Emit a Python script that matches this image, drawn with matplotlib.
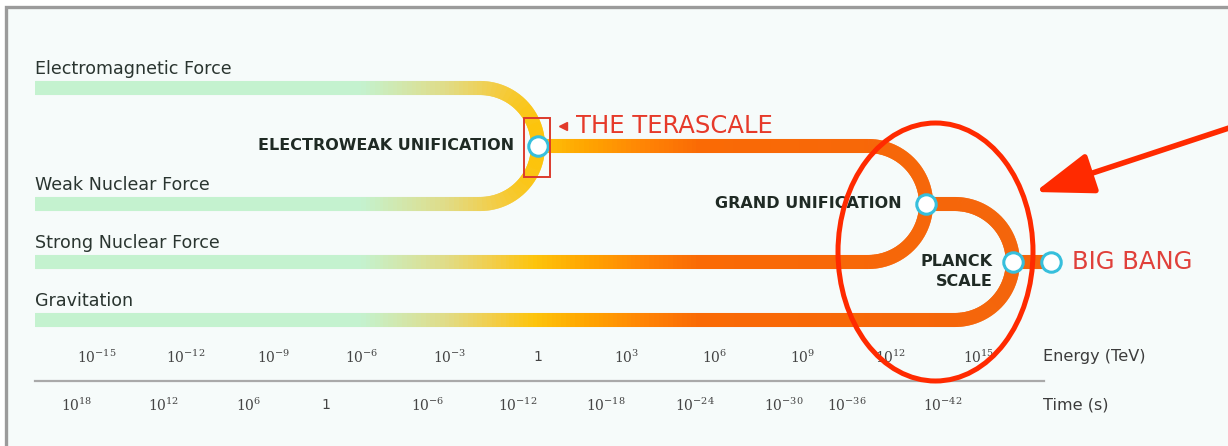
import numpy as np
import matplotlib.pyplot as plt
from matplotlib.collections import LineCollection
from matplotlib.colors import LinearSegmentedColormap, Normalize
from matplotlib.patches import Ellipse, Rectangle

plt.rcParams['font.family'] = ['DejaVu Sans']
plt.rcParams['mathtext.fontset'] = 'dejavuserif'

# data
forces = ['Electromagnetic Force', 'Weak Nuclear Force', 'Strong Nuclear Force', 'Gravitation']
force_level = [0, 2, 3, 4]
unification = ['ELECTROWEAK UNIFICATION', 'GRAND UNIFICATION', 'PLANCK\nSCALE']
unification_logE = [0.0, 13.2, 16.15]      # log10(E / TeV)
big_bang_logE = 17.45
energy_exp = [-15, -12, -9, -6, -3, 0, 3, 6, 9, 12, 15]
time_exp = [18, 12, 6, 0, -6, -12, -18, -24, -30, -36, -42]
time_at_logE = [-15.7, -12.75, -9.85, -7.2, -3.75, -0.7, 2.3, 5.35, 8.35, 10.5, 13.75]
start_logE = -17.1
axis_end_logE = 17.2

# layout: pixel scale of the canvas
W, H = 1228, 446
PX0, PPD = 538, 29.4     # px of 1 TeV, px per decade
PY0, PPL = 88, 58        # px of top track, px per track level


def dx(px):
    return (px - PX0) / PPD


def dy(py):
    return (py - PY0) / PPL


fig = plt.figure(figsize=(W / 100, H / 100), dpi=100)
fig.patch.set_facecolor('white')
fig.add_artist(Rectangle((6 / W, -0.1), 1.2, 1.1 - 7 / H, transform=fig.transFigure,
                         facecolor='#f6fbfa', edgecolor='#9b9b9b', lw=2.4, zorder=0))
ax = fig.add_axes([0, 0, 1, 1])
ax.set_xlim(dx(0), dx(W))
ax.set_ylim(dy(H), dy(0))
ax.axis('off')

# colour runs with energy: green -> gold -> orange
stops = [(35, '#c4f2cf'), (360, '#c4f2cf'), (445, '#e0dc88'), (495, '#f3cd46'),
         (535, '#fdc40c'), (585, '#ffa600'), (645, '#ff8405'), (700, '#fa6a05'), (1228, '#f06210')]
cmap = LinearSegmentedColormap.from_list(
    'energy', [((p - 35) / (1228 - 35), c) for p, c in stops])
norm = Normalize(dx(35), dx(1228))

rx = PPL / PPD   # arc radius (one track level) in decades


def branch(x0, lv0, xn, lvn):
    xs = np.arange(x0, xn - rx, 0.04)
    t = np.linspace(0, np.pi / 2, 120)
    s = np.sign(lvn - lv0)
    arc = np.column_stack([xn - rx + rx * np.sin(t), lvn - s * np.cos(t)])
    return np.vstack([np.column_stack([xs, np.full_like(xs, lv0)]), arc])


paths = []
levels = []
cur = force_level[0]
for i in range(1, len(forces)):
    new = (cur + force_level[i]) / 2
    x_from = start_logE if i == 1 else unification_logE[i - 2]
    paths.append(branch(x_from, cur, unification_logE[i - 1], new))
    paths.append(branch(start_logE, force_level[i], unification_logE[i - 1], new))
    levels.append(new)
    cur = new
xs = np.linspace(unification_logE[-1], big_bang_logE, 40)
paths.append(np.column_stack([xs, np.full_like(xs, cur)]))

for p in paths:
    seg = np.stack([p[:-2], p[2:]], axis=1)
    mid = seg[:, :, 0].mean(axis=1)
    ax.add_collection(LineCollection(seg, colors=cmap(norm(mid)), linewidths=10.1,
                                     capstyle='butt', zorder=2))

# nodes
ax.plot(unification_logE + [big_bang_logE], levels + [levels[-1]], 'o', ms=14,
        mfc='white', mec='#36bfdc', mew=2.2, zorder=4)

# force labels
for name, lv in zip(forces, force_level):
    ax.text(start_logE, lv - 19 / PPL, name, ha='left', va='center', fontsize=12.6,
            color='#2a3530')

# unification labels
offs = [24, 24, 20]
for name, e, lv, o in zip(unification, unification_logE, levels, offs):
    for k, line in enumerate(name.split('\n')):
        ax.text(e - o / PPD, lv + k * 20 / PPL, line, ha='right', va='center',
                fontsize=11.5, fontweight='bold', color='#1f2a24')

# terascale marker
ax.add_patch(Rectangle((dx(524), dy(118)), dx(550) - dx(524), dy(177) - dy(118),
                       fill=False, edgecolor='#dc3a2c', lw=1.4, zorder=5))
ax.plot(dx(563), dy(126), marker='<', ms=5.5, color='#e23a2a', zorder=5)
ax.text(dx(576), dy(126), 'THE TERASCALE', ha='left', va='center', fontsize=17.5,
        color='#e63a2a')
ax.text(dx(1072), levels[-1], 'BIG BANG', ha='left', va='center', fontsize=17.5,
        color='#e0403a')

# energy / time scales
ax.plot([start_logE, axis_end_logE], [dy(381)] * 2, color='#a9a9a9', lw=1.6, zorder=1)
for e in energy_exp:
    lab = '1' if e == 0 else f'$10^{{{e}}}$'
    ax.text(e, dy(357), lab, ha='center', va='center', fontsize=10, color='#444444')
for t, x in zip(time_exp, time_at_logE):
    lab = '1' if t == 0 else f'$10^{{{t}}}$'
    ax.text(x, dy(405), lab, ha='center', va='center', fontsize=10, color='#444444')
ax.text(dx(1043), dy(357), 'Energy (TeV)', ha='left', va='center', fontsize=11.6, color='#3c3c3c')
ax.text(dx(1043), dy(405), 'Time (s)', ha='left', va='center', fontsize=11.6, color='#3c3c3c')

# red highlight
ax.add_patch(Ellipse((dx(935.5), dy(252)), 195 / PPD, 258 / PPL, fill=False,
                     edgecolor='#ff2a00', lw=3.6, zorder=6))
ax.annotate('', xy=(dx(1035), dy(192)), xytext=(dx(1235), dy(126)),
            arrowprops=dict(arrowstyle='-|>,head_length=2.4,head_width=0.85',
                            mutation_scale=15, lw=4, color='#ff2a00',
                            shrinkA=0, shrinkB=0), zorder=6)

fig.savefig('out.png', dpi=100)
